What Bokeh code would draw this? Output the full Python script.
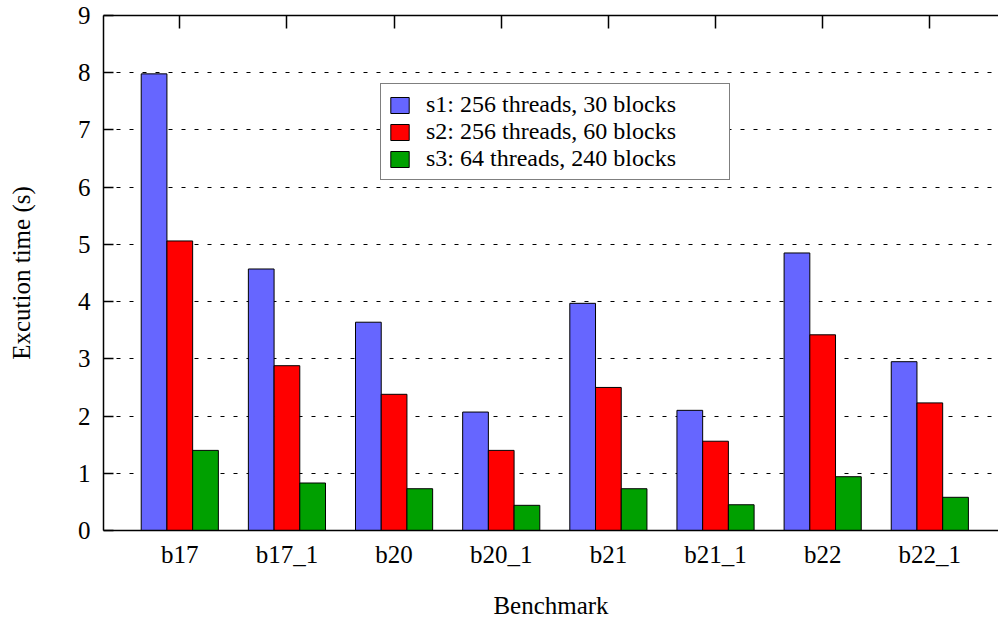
from bokeh.plotting import figure
from bokeh.models import Range1d, LinearAxis, FixedTicker, Legend, LegendItem, ColumnDataSource
from bokeh.transform import dodge
from bokeh.embed import file_html
from bokeh.resources import INLINE

categories = ["b17", "b17_1", "b20", "b20_1", "b21", "b21_1", "b22", "b22_1"]
s1_label = "s1: 256 threads, 30 blocks"
s2_label = "s2: 256 threads, 60 blocks"
s3_label = "s3: 64 threads, 240 blocks"
s1 = [7.98, 4.57, 3.64, 2.07, 3.97, 2.10, 4.85, 2.95]
s2 = [5.06, 2.88, 2.38, 1.40, 2.50, 1.56, 3.42, 2.23]
s3 = [1.40, 0.83, 0.73, 0.44, 0.73, 0.45, 0.94, 0.58]
y_ticks = [0, 1, 2, 3, 4, 5, 6, 7, 8, 9]

FONT = "Liberation Serif"

src = ColumnDataSource(dict(x=list(range(len(categories))), s1=s1, s2=s2, s3=s3))

p = figure(width=998, height=621, x_range=Range1d(-0.712, 7.641), y_range=Range1d(0, 9),
           output_backend="svg", toolbar_location=None, x_axis_location=None, y_axis_location=None,
           min_border_left=103, min_border_right=0, min_border_top=15, min_border_bottom=91)
p.outline_line_color = None
p.background_fill_color = "white"
p.border_fill_color = "white"

# axes
xb = LinearAxis(ticker=FixedTicker(ticks=list(range(len(categories)))),
                major_label_overrides={i: c for i, c in enumerate(categories)})
xb.axis_label = "Benchmark"
xb.major_tick_line_color = None
xb.minor_tick_line_color = None
xb.axis_line_color = "black"
xb.axis_line_width = 1.5
xb.major_label_standoff = 4
xb.axis_label_standoff = 21
xb.major_label_text_font = FONT
xb.major_label_text_font_size = "25px"
xb.major_label_text_color = "black"
xb.axis_label_text_font = FONT
xb.axis_label_text_font_size = "25px"
xb.axis_label_text_font_style = "normal"
xb.axis_label_text_color = "black"
p.add_layout(xb, "below")

xt = LinearAxis(ticker=FixedTicker(ticks=list(range(len(categories)))),
                major_label_overrides={i: "" for i in range(len(categories))})
xt.major_tick_in = 13
xt.major_tick_out = 0
xt.major_tick_line_color = "black"
xt.major_tick_line_width = 1.5
xt.minor_tick_line_color = None
xt.axis_line_color = "black"
xt.axis_line_width = 1.5
xt.major_label_standoff = 0
p.add_layout(xt, "above")

yl = LinearAxis(ticker=FixedTicker(ticks=y_ticks))
yl.axis_label = "Excution time (s)"
yl.major_tick_in = 10
yl.major_tick_out = 0
yl.major_tick_line_color = "black"
yl.major_tick_line_width = 1.5
yl.minor_tick_line_color = None
yl.axis_line_color = "black"
yl.axis_line_width = 1.5
yl.major_label_standoff = 13
yl.axis_label_standoff = 40
yl.major_label_text_font = FONT
yl.major_label_text_font_size = "25px"
yl.major_label_text_color = "black"
yl.axis_label_text_font = FONT
yl.axis_label_text_font_size = "25px"
yl.axis_label_text_font_style = "normal"
yl.axis_label_text_color = "black"
p.add_layout(yl, "left")

p.xgrid.visible = False
p.ygrid.ticker = FixedTicker(ticks=y_ticks)
p.ygrid.grid_line_color = "black"
p.ygrid.grid_line_width = 1
p.ygrid.grid_line_dash = "4 9"

bw = 0.24
r1 = p.vbar(x=dodge("x", -bw, range=p.x_range), top="s1", width=bw, source=src,
            fill_color="#6666ff", line_color="black", line_width=1)
r2 = p.vbar(x=dodge("x", 0, range=p.x_range), top="s2", width=bw, source=src,
            fill_color="#ff0000", line_color="black", line_width=1)
r3 = p.vbar(x=dodge("x", bw, range=p.x_range), top="s3", width=bw, source=src,
            fill_color="#00a000", line_color="black", line_width=1)

legend = Legend(items=[LegendItem(label=s1_label, renderers=[r1]),
                       LegendItem(label=s2_label, renderers=[r2]),
                       LegendItem(label=s3_label, renderers=[r3])],
                location=(277, 350))
legend.label_text_font = FONT
legend.label_text_font_size = "24px"
legend.label_text_color = "black"
legend.glyph_width = 23
legend.glyph_height = 20
legend.label_height = 26
legend.label_width = 296
legend.label_standoff = 15
legend.spacing = 0
legend.padding = 7
legend.margin = 0
legend.border_line_color = "black"
legend.border_line_width = 1
legend.background_fill_color = "white"
legend.background_fill_alpha = 1
p.add_layout(legend)

open("out.html", "w").write(file_html(p, INLINE))
